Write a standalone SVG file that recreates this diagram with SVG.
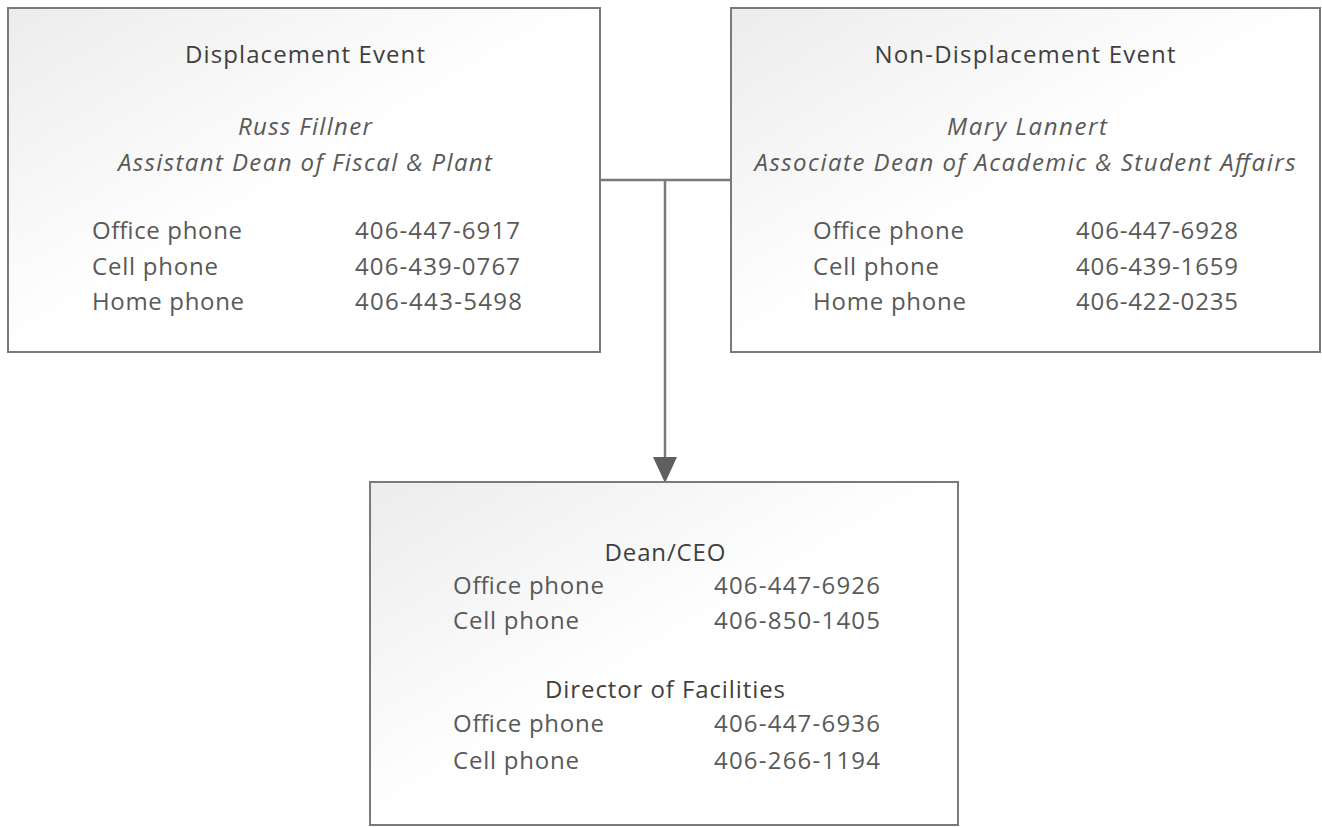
<svg xmlns="http://www.w3.org/2000/svg" width="1322" height="827" viewBox="0 0 1322 827">
<style>
.box{stroke:#7a7a7a;stroke-width:2;fill:url(#bg)}
text{font-family:"Open Sans","Noto Sans",sans-serif;font-size:24px;fill:#595959}
.h{fill:#3f3f3f;text-anchor:middle}
.i{font-style:italic;text-anchor:middle;fill:#595959}
.c{stroke:#7a7a7a;stroke-width:2.5;fill:none}
</style>
<defs>
<linearGradient id="bg" x1="0" y1="0" x2="1" y2="1">
<stop offset="0" stop-color="#ececec"/>
<stop offset="0.5" stop-color="#ffffff"/>
<stop offset="1" stop-color="#ffffff"/>
</linearGradient>
</defs>
<g id="connectors">
<path class="c" d="M600,180 L731,180"/>
<path class="c" d="M665,180 L665,457"/>
<path d="M653,457 L677,457 L665,483 Z" fill="#5f5f5f"/>
</g>
<g id="displacement">
<rect class="box" x="8" y="8" width="592" height="344"/>
<text class="h" x="305" y="63" textLength="240">Displacement Event</text>
<text class="i" x="305" y="135" textLength="134">Russ Fillner</text>
<text class="i" x="305" y="171" textLength="374">Assistant Dean of Fiscal &amp; Plant</text>
<text x="92" y="239" textLength="150">Office phone</text>
<text x="355" y="239" textLength="165">406-447-6917</text>
<text x="92" y="275" textLength="126">Cell phone</text>
<text x="355" y="275" textLength="165">406-439-0767</text>
<text x="92" y="310" textLength="152">Home phone</text>
<text x="355" y="310" textLength="167">406-443-5498</text>
</g>
<g id="non-displacement">
<rect class="box" x="731" y="8" width="589" height="344"/>
<text class="h" x="1025" y="63" textLength="301">Non-Displacement Event</text>
<text class="i" x="1027" y="135" textLength="160">Mary Lannert</text>
<text class="i" x="1025" y="171" textLength="541">Associate Dean of Academic &amp; Student Affairs</text>
<text x="813" y="239" textLength="151">Office phone</text>
<text x="1076" y="239" textLength="162">406-447-6928</text>
<text x="813" y="275" textLength="126">Cell phone</text>
<text x="1076" y="275" textLength="162">406-439-1659</text>
<text x="813" y="310" textLength="153">Home phone</text>
<text x="1076" y="310" textLength="162">406-422-0235</text>
</g>
<g id="dean">
<rect class="box" x="370" y="482" width="588" height="343"/>
<text class="h" x="665" y="561" textLength="121">Dean/CEO</text>
<text x="453" y="594" textLength="151">Office phone</text>
<text x="714" y="594" textLength="166">406-447-6926</text>
<text x="453" y="629" textLength="126">Cell phone</text>
<text x="714" y="629" textLength="166">406-850-1405</text>
<text class="h" x="665" y="698" textLength="240">Director of Facilities</text>
<text x="453" y="732" textLength="151">Office phone</text>
<text x="714" y="732" textLength="166">406-447-6936</text>
<text x="453" y="769" textLength="126">Cell phone</text>
<text x="714" y="769" textLength="166">406-266-1194</text>
</g>
</svg>
